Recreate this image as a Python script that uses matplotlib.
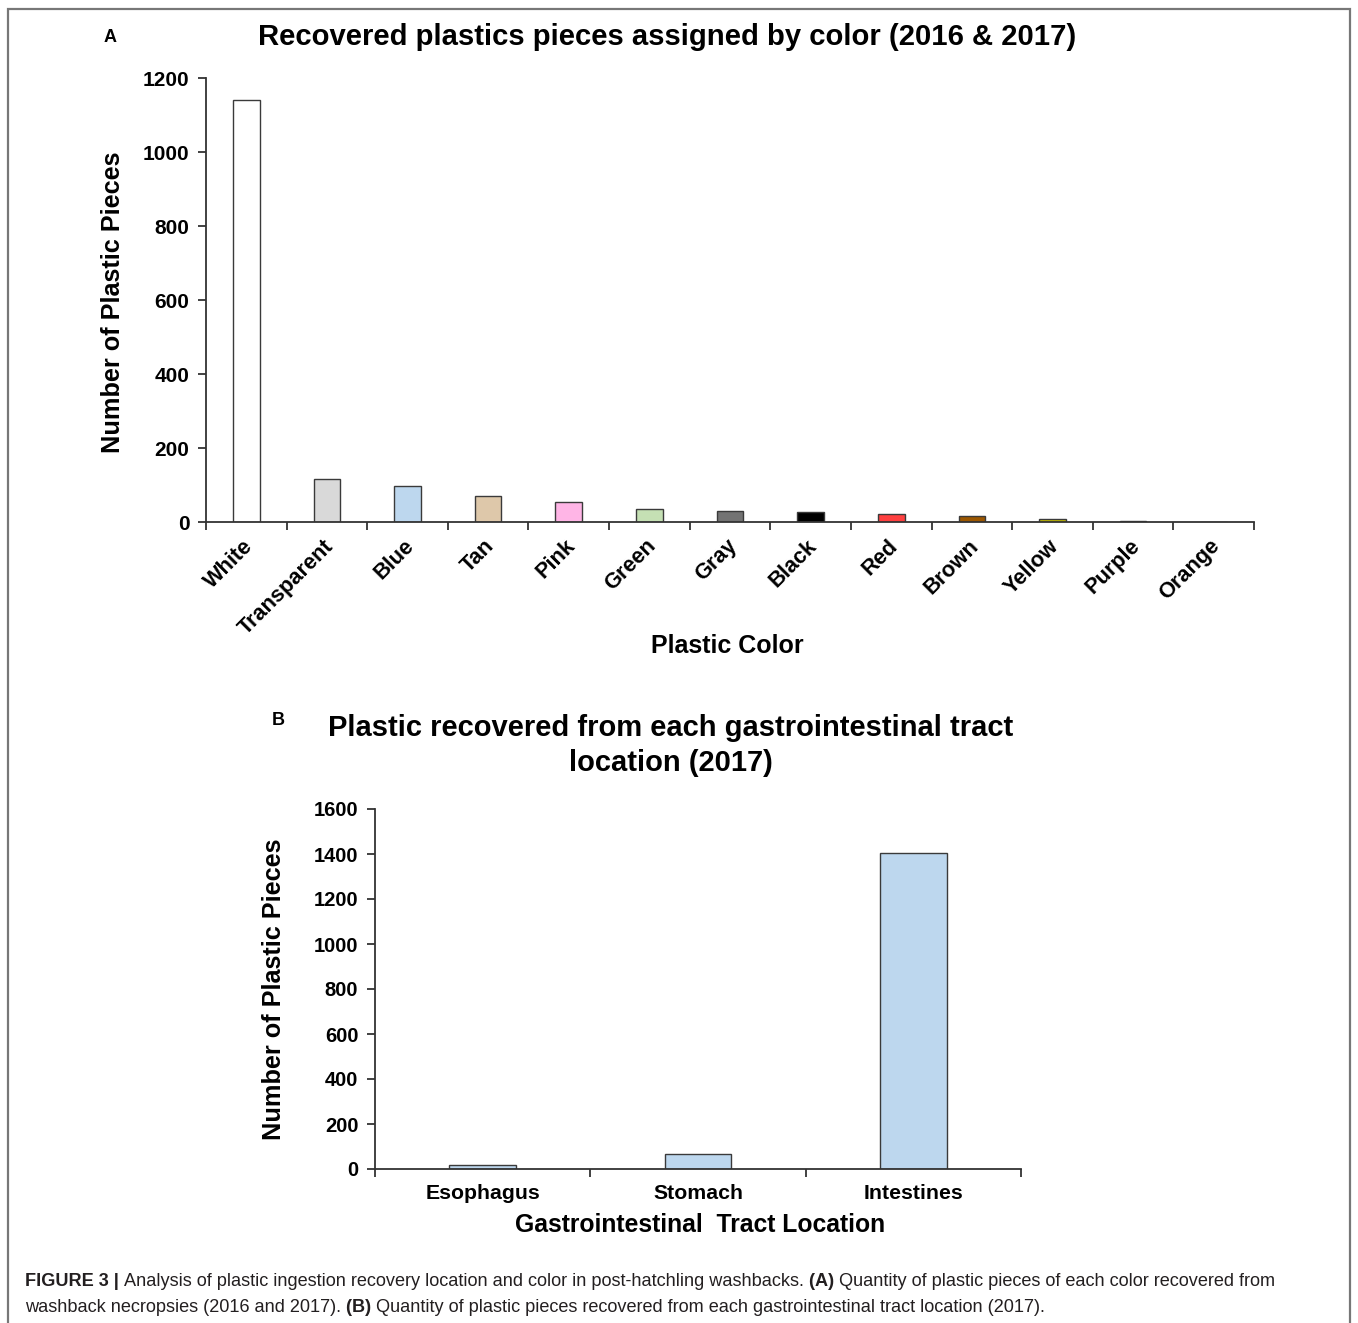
import matplotlib
matplotlib.use("Agg")
import matplotlib.pyplot as plt
import matplotlib.transforms as mtrans
from matplotlib.patches import Rectangle

plt.rcParams['font.family'] = ['Liberation Sans', 'DejaVu Sans']

# ---- data ----
colors_cat = ["White", "Transparent", "Blue", "Tan", "Pink", "Green", "Gray",
              "Black", "Red", "Brown", "Yellow", "Purple", "Orange"]
colors_counts = [1140, 115, 96, 71, 55, 36, 31, 26, 21, 16, 7, 4, 0]
colors_fill = ["#FFFFFF", "#D9D9D9", "#BDD7EE", "#DEC8AA", "#FFB5E6", "#C5E0B4",
               "#737373", "#000000", "#FF4040", "#9C5700", "#C8C000", "#7030A0", "#FF9900"]

gi_cat = ["Esophagus", "Stomach", "Intestines"]
gi_counts = [19, 67, 1404]

W, H = 1358, 1323
fig = plt.figure(figsize=(W / 100, H / 100), dpi=100)
fig.patch.set_facecolor("white")

def fx(x):
    return x / W

def fy(y):
    return 1 - y / H

def ax_rect(l, t, r, b):
    return [fx(l), fy(b), (r - l) / W, (b - t) / H]

# border
fig.add_artist(Rectangle((fx(8), -0.01), fx(1350) - fx(8), fy(9) + 0.01,
                         transform=fig.transFigure, fill=False,
                         edgecolor="#777777", lw=1.6))

spine_c = "#333333"

def style_axes(ax, n):
    for s in ["top", "right"]:
        ax.spines[s].set_visible(False)
    for s in ["left", "bottom"]:
        ax.spines[s].set_color(spine_c)
        ax.spines[s].set_linewidth(1.3)
    ax.set_xlim(-0.5, n - 0.5)
    ax.set_xticks(range(n))
    ax.set_xticks([i - 0.5 for i in range(n + 1)], minor=True)
    ax.tick_params(axis="x", which="major", length=0, pad=4)
    ax.tick_params(axis="x", which="minor", length=6, width=1.3, color=spine_c, direction="out")
    ax.tick_params(axis="y", length=6, width=1.3, color=spine_c, direction="out", pad=6)

# ---- Panel A ----
axA = fig.add_axes(ax_rect(206, 78, 1254, 522))
xa = list(range(len(colors_cat)))
axA.bar(xa, colors_counts, width=0.33, color=colors_fill, edgecolor="#3a3a3a", linewidth=1.0)
style_axes(axA, len(colors_cat))
axA.set_ylim(0, 1200)
axA.set_yticks(range(0, 1201, 200))
for lab in axA.get_yticklabels():
    lab.set_fontsize(15)
    lab.set_fontweight("bold")
axA.set_xticklabels(colors_cat, rotation=45, ha="right", rotation_mode="anchor",
                    fontsize=15.7, fontweight="bold")
offs = mtrans.ScaledTranslation(-4 / 100, -8 / 100, fig.dpi_scale_trans)
for lab in axA.get_xticklabels():
    lab.set_transform(lab.get_transform() + offs)

fig.text(fx(113), fy(302), "Number of Plastic Pieces", rotation=90, ha="center", va="center",
         fontsize=18.2, fontweight="bold")
fig.text(fx(727), fy(646), "Plastic Color", ha="center", va="center", fontsize=18, fontweight="bold")
fig.text(fx(667), fy(37), "Recovered plastics pieces assigned by color (2016 & 2017)",
         ha="center", va="center", fontsize=21.1, fontweight="bold")
fig.text(fx(110), fy(37), "A", ha="center", va="center", fontsize=13, fontweight="bold")

# ---- Panel B ----
axB = fig.add_axes(ax_rect(375, 809, 1021, 1169))
xb = list(range(len(gi_cat)))
axB.bar(xb, gi_counts, width=0.31, color="#BDD7EE", edgecolor="#3a3a3a", linewidth=1.0)
style_axes(axB, len(gi_cat))
axB.set_ylim(0, 1600)
axB.set_yticks(range(0, 1601, 200))
for lab in axB.get_yticklabels():
    lab.set_fontsize(14.5)
    lab.set_fontweight("bold")
axB.set_xticklabels(gi_cat, fontsize=15.3, fontweight="bold")
axB.tick_params(axis="x", which="major", pad=11)

fig.text(fx(274), fy(989), "Number of Plastic Pieces", rotation=90, ha="center", va="center",
         fontsize=18.2, fontweight="bold")
fig.text(fx(700), fy(1225), "Gastrointestinal  Tract Location", ha="center", va="center",
         fontsize=17.8, fontweight="bold")
fig.text(fx(671), fy(728), "Plastic recovered from each gastrointestinal tract",
         ha="center", va="center", fontsize=21, fontweight="bold")
fig.text(fx(671), fy(763), "location (2017)", ha="center", va="center", fontsize=21, fontweight="bold")
fig.text(fx(278), fy(720), "B", ha="center", va="center", fontsize=13, fontweight="bold")

# ---- caption ----
cap_c = "#231F20"
lines = [
    [("FIGURE 3 | ", "bold"),
     ("Analysis of plastic ingestion recovery location and color in post-hatchling washbacks. ", "normal"),
     ("(A) ", "bold"),
     ("Quantity of plastic pieces of each color recovered from", "normal")],
    [("washback necropsies (2016 and 2017). ", "normal"),
     ("(B) ", "bold"),
     ("Quantity of plastic pieces recovered from each gastrointestinal tract location (2017).", "normal")],
]
cap_y = [1281, 1307]
fig.canvas.draw()
renderer = fig.canvas.get_renderer()
cap_fs = 13.07
for li, parts in enumerate(lines):
    x = 25
    for txt, wt in parts:
        t = fig.text(fx(x), fy(cap_y[li]), txt, ha="left", va="center", fontsize=cap_fs,
                     fontweight=wt, color=cap_c)
        bb = t.get_window_extent(renderer=renderer)
        x += bb.width

fig.savefig("out.png", dpi=100, facecolor="white")
